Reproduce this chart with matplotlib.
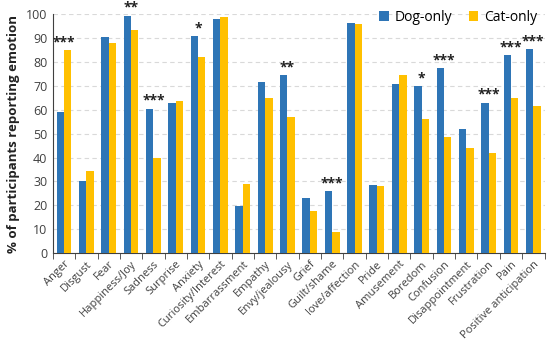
import matplotlib.pyplot as plt
import numpy as np

emotions = ['Anger', 'Disgust', 'Fear', 'Happiness/Joy', 'Sadness', 'Surprise', 'Anxiety',
            'Curiosity/Interest', 'Embarrassment', 'Empathy', 'Envy/jealousy', 'Grief',
            'Guilt/shame', 'love/affection', 'Pride', 'Amusement', 'Boredom', 'Confusion',
            'Disappointment', 'Frustration', 'Pain', 'Positive anticipation']
dog = [59, 30, 90.5, 99.5, 60.5, 63, 91, 98, 19.5, 71.5, 74.5, 23,
       26, 96.5, 28.5, 71, 70, 77.5, 52, 63, 83, 85.5]
cat = [85, 34.5, 88, 93.5, 40, 63.5, 82, 99, 29, 65, 57, 17.5,
       9, 96, 28, 74.5, 56, 48.5, 44, 42, 65, 61.5]
signif = ['***', '', '', '**', '***', '', '*', '', '', '', '**', '',
          '***', '', '', '', '*', '***', '', '***', '***', '***']

plt.rcParams['font.family'] = ['Open Sans', 'DejaVu Sans']

fig = plt.figure(figsize=(5.5, 3.41), dpi=100)
ax = fig.add_axes([0.096, 0.258, 0.894, 0.70])

x = np.arange(len(emotions))
w = 0.33
ax.bar(x - w / 2, dog, w, color='#2E75B6', label='Dog-only', zorder=3)
ax.bar(x + w / 2, cat, w, color='#FFC000', label='Cat-only', zorder=3)

# significance markers above each pair
for xi, d, c, s in zip(x, dog, cat, signif):
    if s:
        ax.text(xi, max(d, c) + 0.3, s, ha='center', va='bottom', fontsize=10,
                fontweight='bold', color='#222222')

ax.set_xlim(-0.5, len(emotions) - 0.5)
ax.set_ylim(0, 100)
ax.set_yticks(range(0, 101, 10))
ax.tick_params(axis='y', labelsize=9, length=0, pad=4, labelcolor='#404040')
ax.set_xticks(x)
ax.set_xticklabels(emotions, rotation=45, ha='right', rotation_mode='anchor', fontsize=8,
                   color='#404040')
ax.tick_params(axis='x', which='major', length=0, pad=4)
ax.set_xticks(np.arange(-0.5, len(emotions), 1), minor=True)
ax.tick_params(axis='x', which='minor', length=4, color='#404040')

ax.yaxis.grid(True, linestyle=(0, (4, 3)), color='#D9D9D9', linewidth=0.8, zorder=0)
for sp in ['top', 'right']:
    ax.spines[sp].set_visible(False)
ax.spines['left'].set_color('#404040')
ax.spines['bottom'].set_color('#404040')

ax.set_ylabel('% of participants reporting emotion', fontsize=9.5, fontweight='bold',
              labelpad=4, color='#222222')
ax.legend(loc='upper right', bbox_to_anchor=(1.01, 1.07), ncol=2, frameon=False, fontsize=10,
          handlelength=0.7, handleheight=0.7, handletextpad=0.4, columnspacing=1.2)

fig.savefig('out.png', dpi=100)
